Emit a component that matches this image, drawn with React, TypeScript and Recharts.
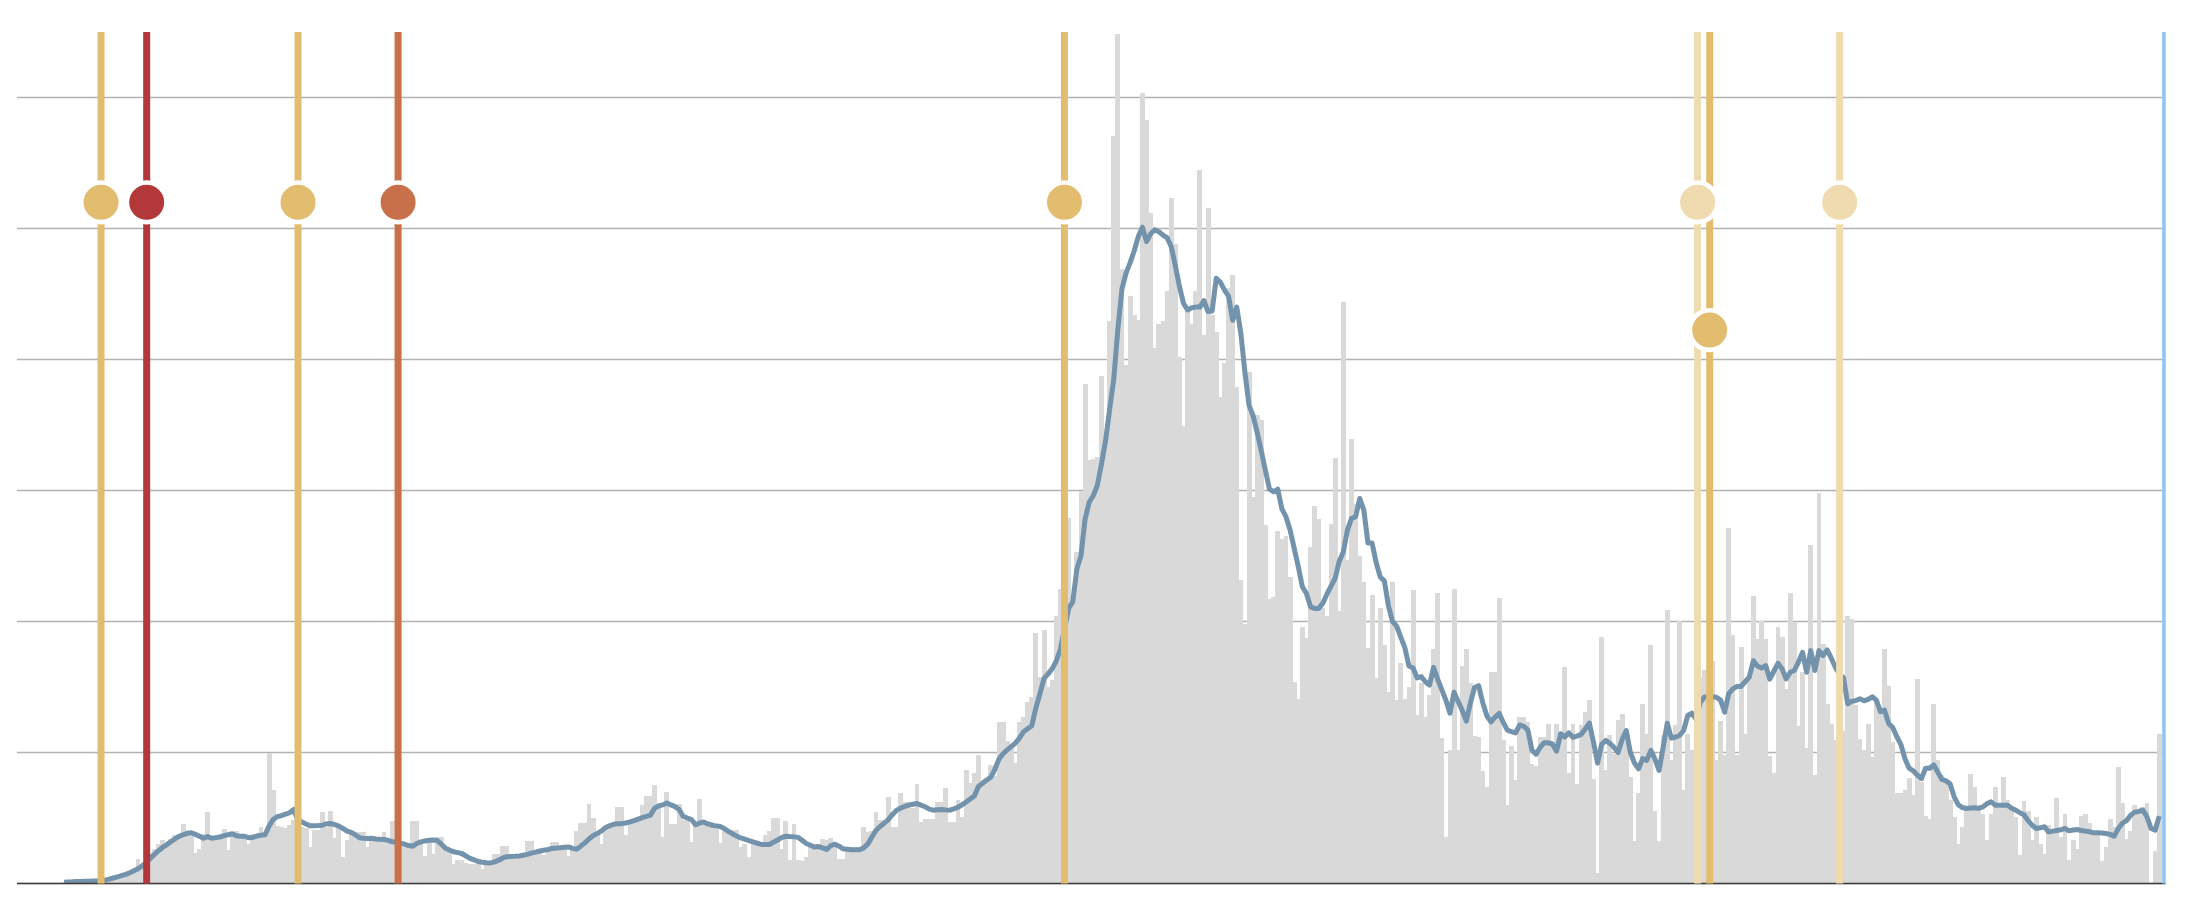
import React from "react";
import {
  ComposedChart,
  Bar,
  Line,
  XAxis,
  YAxis,
  CartesianGrid,
  ReferenceLine,
  ReferenceDot,
} from "recharts";

// one entry per day, day 0 = left edge of the plot
const dailyCases: (number | null)[] = [
  null, null, null, null, null, null, null, null, null, null, null,
  10, 8, 14, 12, 16, 18, 20, 16, 24, 26,
  30, 40, 48, 56, 66, 80, 92, 110, 190, 150,
  160, 230, 260, 305, 330, 320, 340, 370, 365, 453,
  380, 360, 230, 267, 380, 547, 350, 365, 360, 415,
  255, 380, 400, 370, 360, 305, 380, 375, 428, 395,
  993, 713, 440, 430, 420, 445, 484, 438, 430, 420,
  275, 410, 405, 547, 430, 555, 344, 420, 204, 330,
  400, 370, 392, 390, 280, 360, 345, 350, 390, 330,
  478, 300, 292, 280, 270, 480, 480, 330, 210, 330,
  229, 356, 356, 280, 250, 152, 178, 178, 160, 152,
  152, 170, 114, 150, 170, 229, 229, 284, 284, 200,
  190, 215, 230, 323, 323, 240, 250, 216, 265, 315,
  315, 275, 285, 208, 260, 401, 462, 462, 604, 500,
  394, 300, 437, 437, 460, 584, 584, 368, 470, 470,
  480, 597, 665, 665, 750, 584, 356, 699, 457, 457,
  610, 483, 483, 318, 450, 648, 470, 470, 470, 420,
  310, 406, 406, 406, 406, 279, 305, 203, 305, 305,
  305, 368, 400, 503, 503, 267, 475, 178, 457, 178,
  173, 200, 289, 290, 260, 340, 330, 345, 300, 186,
  186, 276, 280, 270, 276, 431, 392, 400, 547, 482,
  482, 663, 431, 431, 689, 624, 624, 580, 761, 470,
  495, 495, 495, 624, 624, 728, 470, 470, 637, 508,
  869, 766, 843, 978, 766, 800, 908, 818, 1231, 1231,
  1089, 1063, 921, 1231, 1269, 1385, 1424, 1914, 1579, 1932,
  1502, 1553, 2043, 2250, 2721, 2792, 2147, 2534, 2998, 3811,
  3230, 3243, 3254, 3873, 3410, 4294, 5705, 6483, 4694, 3957,
  4484, 4336, 4300, 6033, 5831, 5115, 4084, 4273, 4294, 4526,
  5233, 4884, 4021, 3494, 4378, 4273, 4526, 5444, 4189, 5157,
  4336, 4210, 3717, 3970, 4547, 4644, 3789, 2316, 1979, 3903,
  2947, 3579, 3536, 2737, 2168, 2189, 2694, 2631, 2652, 2337,
  1537, 1410, 1958, 1873, 2568, 2884, 2779, 2105, 2041, 2743,
  3245, 2082, 4442, 2469, 3393, 2900, 2500, 2300, 1800, 2200,
  1565, 2100, 1820, 1463, 2300, 1400, 1685, 1412, 1502, 2240,
  1285, 1527, 1272, 1438, 1787, 2219, 1107, 356, 1018, 2245,
  1018, 1659, 1787, 1527, 1125, 1120, 860, 738, 1616, 1616,
  2176, 1094, 598, 1049, 789, 1272, 1272, 1234, 916, 896,
  1120, 1120, 1217, 1067, 1219, 1100, 1651, 843, 1214, 757,
  1207, 1308, 1397, 800, 81, 1880, 869, 1130, 991, 1245,
  1295, 1130, 813, 325, 691, 1367, 1143, 1824, 554, 325,
  1130, 2088, 940, 1207, 2002, 716, 1143, 1021, 1350, 1570,
  1631, 1500, 1702, 945, 1240, 978, 2710, 1900, 978, 1808,
  1143, 1595, 2197, 1867, 2007, 1867, 970, 843, 1961, 1880,
  1486, 2215, 1994, 1199, 1613, 1036, 2584, 826, 2981, 1829,
  1372, 1214, 1097, 1300, 1163, 2045, 2019, 1359, 1105, 1021,
  1219, 962, 1400, 1350, 1787, 1507, 1082, 692, 692, 713,
  809, 674, 1558, 776, 514, 496, 1369, 942, 827, 789,
  641, 509, 300, 428, 585, 835, 738, 585, 534, 331,
  534, 733, 573, 814, 641, 585, 509, 216, 631, 555,
  331, 509, 300, 229, 445, 382, 649, 356, 534, 178,
  331, 260, 514, 534, 463, 387, 382, 173, 280, 489,
  433, 891, 611, 336, 402, 598, 560, 585, 616, 0,
  249, 1138, null,
];

// 7-day average as drawn in the original
const weeklyAverage: (number | null)[] = [
  null, null, null, null, null, null, null, null, null, null, null,
  10, 12, 13, 15, 16, 17, 18, 19, 20, 22,
  26, 33, 42, 50, 60, 70, 82, 97, 113, 133,
  158, 190, 222, 250, 275, 295, 318, 340, 360, 372,
  383, 387, 375, 360, 345, 358, 345, 350, 355, 365,
  372, 380, 365, 360, 360, 350, 352, 362, 368, 372,
  440, 490, 510, 518, 529, 540, 565, 480, 470, 455,
  440, 440, 442, 445, 456, 458, 450, 438, 420, 400,
  390, 372, 350, 346, 344, 345, 340, 338, 336, 330,
  318, 315, 308, 300, 290, 285, 305, 318, 325, 330,
  332, 328, 300, 270, 255, 242, 236, 229, 210, 192,
  180, 168, 162, 158, 157, 165, 178, 195, 205, 207,
  208, 210, 216, 222, 232, 240, 248, 254, 260, 267,
  270, 273, 276, 279, 268, 262, 285, 310, 340, 365,
  381, 400, 425, 440, 452, 457, 457, 462, 470, 480,
  492, 502, 512, 522, 575, 592, 600, 615, 600, 587,
  565, 512, 500, 488, 448, 462, 470, 455, 445, 440,
  435, 420, 398, 380, 362, 348, 338, 328, 318, 308,
  298, 297, 298, 315, 332, 350, 361, 358, 356, 352,
  330, 305, 292, 278, 282, 272, 260, 290, 300, 285,
  265, 262, 258, 258, 258, 272, 300, 355, 405, 435,
  460, 488, 525, 558, 575, 588, 598, 605, 611, 598,
  586, 568, 560, 563, 565, 562, 560, 570, 582, 600,
  622, 645, 668, 740, 765, 790, 810, 870, 950, 990,
  1020, 1045, 1072, 1110, 1158, 1182, 1205, 1340, 1450, 1566,
  1600, 1640, 1700, 1790, 1945, 2100, 2150, 2400, 2500, 2780,
  2910, 2960, 3040, 3200, 3380, 3620, 3850, 4230, 4540, 4660,
  4740, 4830, 4940, 5010, 4900, 4960, 4990, 4975, 4950, 4930,
  4863, 4720, 4560, 4430, 4378, 4395, 4400, 4400, 4450, 4366,
  4370, 4620, 4590, 4530, 4484, 4300, 4400, 4200, 3900, 3650,
  3570, 3440, 3300, 3150, 3010, 2990, 3010, 2860, 2800, 2700,
  2560, 2420, 2265, 2214, 2112, 2100, 2100, 2140, 2210, 2270,
  2330, 2460, 2530, 2700, 2787, 2800, 2939, 2850, 2600, 2600,
  2450, 2340, 2310, 2120, 2000, 1965, 1880, 1800, 1660, 1645,
  1570, 1580, 1540, 1514, 1650, 1560, 1480, 1400, 1300, 1460,
  1390, 1320, 1240, 1380, 1496, 1510, 1380, 1280, 1234, 1270,
  1298, 1230, 1171, 1160, 1150, 1210, 1200, 1171, 1018, 987,
  1040, 1074, 1074, 1065, 1010, 1143, 1118, 1150, 1115, 1125,
  1138, 1180, 1224, 1080, 919, 1062, 1092, 1070, 1040, 1000,
  1100, 1168, 1000, 920, 876, 953, 940, 1016, 950, 864,
  1040, 1224, 1110, 1118, 1130, 1168, 1283, 1300, 1257, 1380,
  1422, 1427, 1425, 1422, 1400, 1308, 1450, 1486, 1504, 1504,
  1540, 1575, 1700, 1660, 1645, 1664, 1560, 1620, 1681, 1640,
  1562, 1613, 1626, 1690, 1765, 1613, 1778, 1626, 1778, 1740,
  1783, 1720, 1650, 1600, 1570, 1372, 1390, 1397, 1410, 1395,
  1405, 1425, 1400, 1311, 1323, 1222, 1190, 1120, 1060, 950,
  880, 860, 827, 800, 880, 880, 905, 850, 794, 784,
  760, 660, 600, 580, 573, 576, 578, 575, 585, 610,
  623, 598, 598, 598, 598, 575, 560, 540, 525, 480,
  445, 420, 425, 433, 394, 400, 405, 410, 420, 402,
  408, 412, 405, 400, 395, 387, 387, 385, 382, 375,
  361, 420, 460, 480, 520, 545, 550, 560, 509, 420,
  407, 514, null,
];

const yTicks = [0, 1000, 2000, 3000, 4000, 5000, 6000];

// event markers (day positions, colours, marker heights)
const eventDays = [20, 31.13, 68.04, 92.45, 254.98, 409.4, 412.35, 444.04];
const eventColors = [
  "#e3bd6f",
  "#b2383a",
  "#e3bd6f",
  "#c87049",
  "#e3bd6f",
  "#f0dbb0",
  "#e3bd6f",
  "#f0dbb0",
];
const eventMarkers = [5200, 5200, 5200, 5200, 5200, 5200, 4225, 5200];
const todayDay = 523.15;

const rows = dailyCases.map((cases, day) => ({
  day,
  cases,
  avg: weeklyAverage[day],
}));

// bars drawn a little wider than the band so neighbours touch without seams
const SolidBar = (props: any) => {
  const { x, y, width, height, fill } = props;
  if (!height || height <= 0) return null;
  return (
    <rect
      x={x - 0.4}
      y={y}
      width={width + 0.8}
      height={height}
      fill={fill}
      shapeRendering="crispEdges"
    />
  );
};

const App = () => {
  return (
    <ComposedChart
      width={2174}
      height={890}
      data={rows}
      margin={{ top: 24, right: 16.6, bottom: 14.5, left: 9 }}
      barCategoryGap={0}
      barGap={0}
    >
      <CartesianGrid
        xAxisId="cat"
        vertical={false}
        horizontalValues={yTicks}
        stroke="#b2b2b2"
        strokeWidth={1.5}
      />
      <XAxis xAxisId="cat" dataKey="day" hide />
      <XAxis
        xAxisId="num"
        dataKey="day"
        type="number"
        domain={[-0.5, 523.5]}
        allowDataOverflow
        hide
      />
      <YAxis domain={[0, 6500]} ticks={yTicks} allowDataOverflow hide />

      <Bar
        xAxisId="cat"
        dataKey="cases"
        fill="#d9d9d9"
        barSize={4.1}
        shape={SolidBar}
        isAnimationActive={false}
      />
      <Line
        xAxisId="cat"
        type="linear"
        dataKey="avg"
        stroke="#7393ad"
        strokeWidth={5}
        strokeLinejoin="round"
        dot={false}
        activeDot={false}
        isAnimationActive={false}
      />
      <ReferenceLine xAxisId="cat" y={0} stroke="#3d3d3d" strokeWidth={1.5} />

      {eventDays.map((d, k) => (
        <ReferenceLine
          key={`line-${k}`}
          xAxisId="num"
          x={d}
          stroke={eventColors[k]}
          strokeWidth={7}
        />
      ))}
      <ReferenceLine
        xAxisId="num"
        x={todayDay}
        stroke="#8ec5f2"
        strokeWidth={3.5}
      />
      {eventDays.map((d, k) => (
        <ReferenceDot
          key={`dot-${k}`}
          xAxisId="num"
          x={d}
          y={eventMarkers[k]}
          r={19.8}
          fill={eventColors[k]}
          stroke="#ffffff"
          strokeWidth={4.6}
        />
      ))}
    </ComposedChart>
  );
};

export default App;
